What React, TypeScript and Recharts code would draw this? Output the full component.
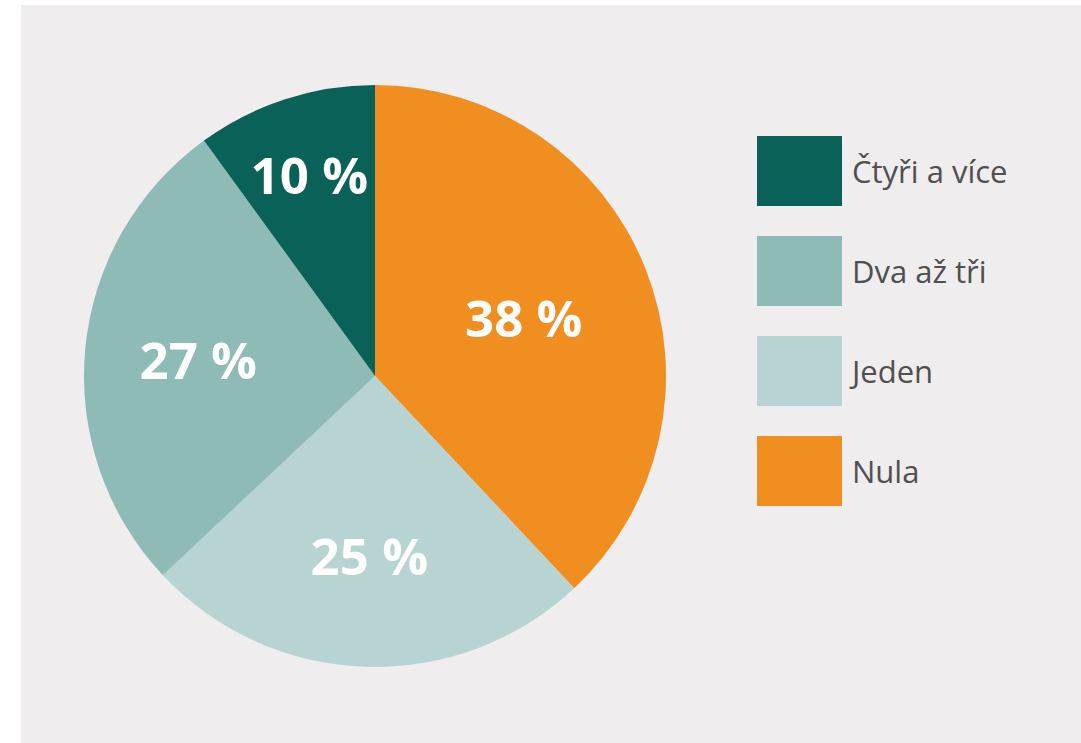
import { PieChart, Pie, Cell } from 'recharts';

// Share of respondents by count (clockwise from 12 o'clock)
const categories = ['Nula', 'Jeden', 'Dva až tři', 'Čtyři a více'];
const shares = [38, 25, 27, 10];
const colors = ['#f08f20', '#b8d4d2', '#8fbbb7', '#0a6158'];

const data = categories.map((name, i) => ({ name, value: shares[i], color: colors[i] }));

const FONT = '"Open Sans", Lato, sans-serif';
const RADIAN = Math.PI / 180;
// how far out along each slice's bisector the percentage sits (fraction of radius)
const LABEL_RADIUS = [0.55, 0.615, 0.61, 0.73];

function SliceLabel(props: any) {
  const { cx, cy, midAngle, outerRadius, value, index } = props;
  const r = outerRadius * (LABEL_RADIUS[index] ?? 0.6);
  const x = cx + r * Math.cos(-midAngle * RADIAN);
  const y = cy + r * Math.sin(-midAngle * RADIAN);
  return (
    <text
      x={x}
      y={y}
      fill="#ffffff"
      textAnchor="middle"
      dominantBaseline="central"
      fontFamily={FONT}
      fontWeight={700}
      fontSize={51}
    >
      {`${value} %`}
    </text>
  );
}

function LegendList() {
  // legend lists the series in reverse order
  const items = [...data].reverse();
  return (
    <div style={{ fontFamily: FONT }}>
      {items.map((d) => (
        <div key={d.name} style={{ display: 'flex', alignItems: 'center', height: 100 }}>
          <div style={{ width: 85, height: 70, background: d.color }} />
          <span style={{ marginLeft: 10, fontSize: 31, fontWeight: 500, color: '#505050' }}>{d.name}</span>
        </div>
      ))}
    </div>
  );
}

export default function App() {
  return (
    <div style={{ position: 'fixed', left: 0, top: 0, width: 1081, height: 743, background: '#ffffff' }}>
      <div style={{ position: 'absolute', left: 21, top: 5, width: 1060, height: 738, background: '#efedee' }} />
      <div style={{ position: 'absolute', left: 0, top: 0 }}>
        <PieChart width={1081} height={743} margin={{ top: 0, right: 0, bottom: 0, left: 0 }}>
          <Pie
            data={data}
            dataKey="value"
            nameKey="name"
            cx={375}
            cy={376}
            outerRadius={291}
            startAngle={90}
            endAngle={-270}
            stroke="none"
            label={SliceLabel}
            labelLine={false}
            isAnimationActive={false}
          >
            {data.map((d) => (
              <Cell key={d.name} fill={d.color} />
            ))}
          </Pie>
        </PieChart>
      </div>
      <div style={{ position: 'absolute', left: 757, top: 121 }}>
        <LegendList />
      </div>
    </div>
  );
}
